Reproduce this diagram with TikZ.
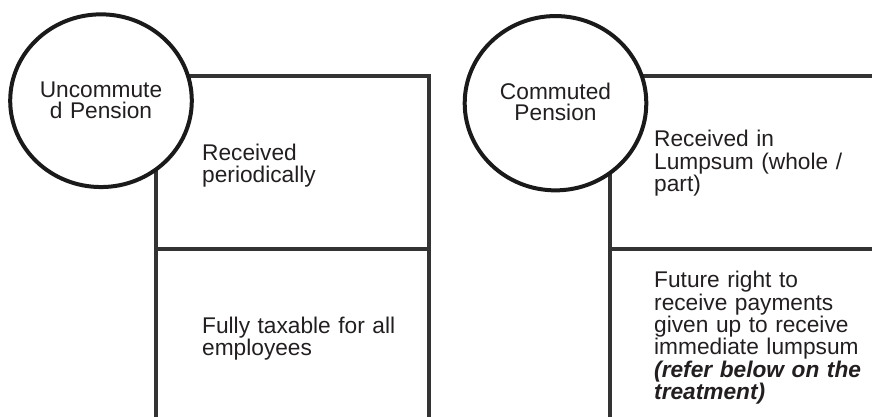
\documentclass[tikz,border=0pt]{standalone}
\usepackage{fontspec}
\setmainfont{Liberation Sans}
\usetikzlibrary{shapes.geometric}
\definecolor{boxline}{HTML}{333333}
\definecolor{ringline}{HTML}{1A1A1A}
\definecolor{ink}{HTML}{231F20}
\begin{document}
\begin{tikzpicture}[x=1pt,y=-1pt,
  boxedge/.style={draw=boxline, line width=4pt},
  ring/.style={ellipse, draw=ringline, line width=4pt, fill=white,
    minimum width=181.6pt, minimum height=172.7pt, inner sep=0pt},
  txt/.style={text=ink, font=\fontsize{22.7}{22.4}\selectfont, inner sep=0pt,
    align=left, anchor=base west, text width=#1},
  ringtxt/.style={text=ink, font=\fontsize{22.7}{21}\selectfont, inner sep=0pt,
    align=center, anchor=base, text width=170pt}]
\useasboundingbox (0,0) rectangle (872,416);
\clip (0,0) rectangle (872,416);
% left box
\coordinate (Ltl) at (156,76);
\coordinate (Ltr) at (428.5,76);
\coordinate (Lml) at (156,248.5);
\coordinate (Lmr) at (428.5,248.5);
\coordinate (Lbl) at (156,422);
\coordinate (Lbr) at (428.5,422);
\draw[boxedge] (Lbl) -- (Ltl) -- (Ltr) -- (Lbr);
\draw[boxedge] (Lml) -- (Lmr);
% right box
\coordinate (Rtl) at (610,76);
\coordinate (Rtr) at (880,76);
\coordinate (Rml) at (610,248.5);
\coordinate (Rmr) at (880,248.5);
\coordinate (Rbl) at (610,422);
\draw[boxedge] (Rbl) -- (Rtl) -- (Rtr);
\draw[boxedge] (Rml) -- (Rmr);
% circles
\node[ring] (uc) at (101,100.7) {};
\node[ring, minimum height=174.3pt] (cp) at (555.5,103.2) {};
% texts
\node[ringtxt] (uct) at (101,97.7) {Uncommute\\d Pension};
\node[ringtxt] (cpt) at (555.5,99.5) {Commuted\\Pension};
\node[txt=240pt] (lt1) at (202,160) {Received\\periodically};
\node[txt=240pt] (lt2) at (202,333.3) {Fully taxable for all\\employees};
\node[txt=220pt] (rt1) at (654,146.7) {Received in\\Lumpsum (whole /\\part)};
\node[txt=220pt] (rt2) at (654,287.7) {Future right to\\receive payments\\given up to receive\\immediate lumpsum\\\textbf{\textit{(refer below on the}}\\\textbf{\textit{treatment)}}};
\end{tikzpicture}
\end{document}
